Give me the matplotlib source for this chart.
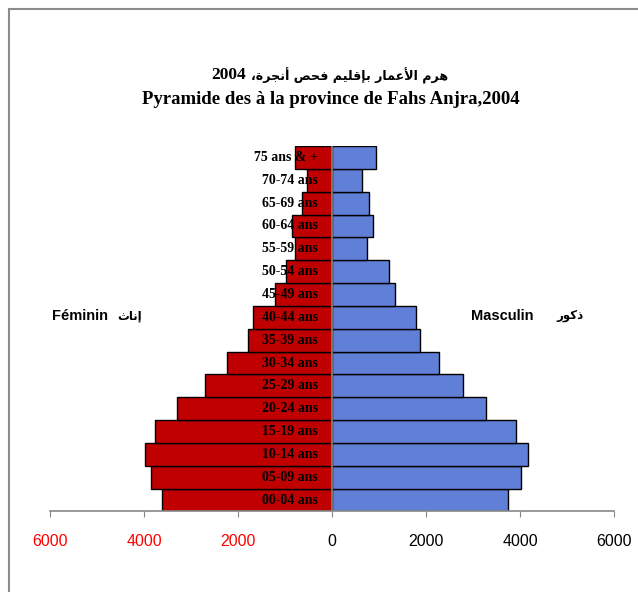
import matplotlib
matplotlib.use("Agg")
import matplotlib.pyplot as plt
import numpy as np

# age groups, bottom to top
age_groups = ["00-04 ans", "05-09 ans", "10-14 ans", "15-19 ans", "20-24 ans",
              "25-29 ans", "30-34 ans", "35-39 ans", "40-44 ans", "45-49 ans",
              "50-54 ans", "55-59 ans", "60-64 ans", "65-69 ans", "70-74 ans",
              "75 ans & +"]
feminin = [3630, 3850, 3980, 3780, 3310, 2710, 2230, 1800, 1690, 1210,
           980, 800, 850, 650, 540, 790]
masculin = [3730, 4010, 4170, 3900, 3270, 2770, 2280, 1870, 1770, 1330,
            1200, 730, 870, 780, 640, 920]
xticks = [-6000, -4000, -2000, 0, 2000, 4000, 6000]
xtick_labels = ["6000", "4000", "2000", "0", "2000", "4000", "6000"]

# Arabic strings in visual order (presentation forms), matplotlib does no shaping
title_year = "2004"
title_ar = ("\u060C"
            "\uFE93\uFEAE\uFEA0\uFEE7\uFE83 "
            "\uFEBA\uFEA4\uFED3 "
            "\uFEE2\uFEF4\uFEE0\uFED7\uFE88\uFE91 "
            "\uFEAD\uFE8E\uFEE4\uFECB\uFEF7\uFE8D "
            "\uFEE1\uFEAE\uFEEB")
title_fr = "Pyramide des à la province de Fahs Anjra,2004"
ar_femmes = "\uFE99\uFE8E\uFEE7\uFE87"
ar_hommes = "\uFEAD\uFEEE\uFEDB\uFEAB"

fig = plt.figure(figsize=(6.38, 5.92), dpi=100)
ax = fig.add_axes([0.0788, 0.136, 0.8841, 0.6174])

y = np.arange(len(age_groups))
ax.barh(y, -np.array(feminin), height=1.0, color="#C00000", edgecolor="black", linewidth=1)
ax.barh(y, masculin, height=1.0, color="#6080D8", edgecolor="black", linewidth=1)
ax.axvline(0, color="#888888", linewidth=1.2, zorder=3)

for yi, lab in zip(y, age_groups):
    ax.text(-300, yi, lab, ha="right", va="center", fontsize=10,
            fontweight="bold", family="Liberation Serif", color="black", zorder=4)

ax.set_xlim(-6000, 6000)
ax.set_ylim(-0.5, len(age_groups) - 0.5)
ax.set_xticks(xticks)
ax.set_xticklabels(xtick_labels, family="Liberation Sans", fontsize=11.5)
for t in ax.get_xticklabels()[:3]:
    t.set_color("red")
ax.tick_params(axis="x", direction="out", length=4, color="#888888", pad=12)
ax.set_yticks([])
for s in ["top", "right", "left"]:
    ax.spines[s].set_visible(False)
ax.spines["bottom"].set_color("#888888")
ax.spines["bottom"].set_linewidth(1.2)

# title: Arabic line (year drawn apart so it keeps the serif size), then French line
fig.text(211 / 638, 1 - 75 / 592, title_year, ha="left", va="center", fontsize=12.5,
         fontweight="bold", family="Liberation Serif")
fig.text(448 / 638, 1 - 76 / 592, title_ar, ha="right", va="center", fontsize=9.1,
         fontweight="bold", family=["DejaVu Sans"])
fig.text(0.519, 1 - 99 / 592, title_fr, ha="center", va="center", fontsize=13.5,
         fontweight="bold", family="Liberation Serif")

ly = 1 - 316 / 592
fig.text(52 / 638, ly, "Féminin", ha="left", va="center", fontsize=10.5,
         fontweight="bold", family="Liberation Sans")
fig.text(117 / 638, ly, ar_femmes, ha="left", va="center", fontsize=8.5,
         fontweight="bold", family=["Liberation Sans", "DejaVu Sans"])
fig.text(471 / 638, ly, "Masculin", ha="left", va="center", fontsize=10.5,
         fontweight="bold", family="Liberation Sans")
fig.text(556 / 638, ly, ar_hommes, ha="left", va="center", fontsize=8.5,
         fontweight="bold", family=["Liberation Sans", "DejaVu Sans"])

# chart area border (top and left only visible)
fig.add_artist(plt.Line2D([8.5 / 638, 1], [1 - 9 / 592, 1 - 9 / 592], color="#8c8c8c", linewidth=1.5))
fig.add_artist(plt.Line2D([8.5 / 638, 8.5 / 638], [0, 1 - 9 / 592], color="#8c8c8c", linewidth=1.5))

fig.savefig("out.png", dpi=100)
